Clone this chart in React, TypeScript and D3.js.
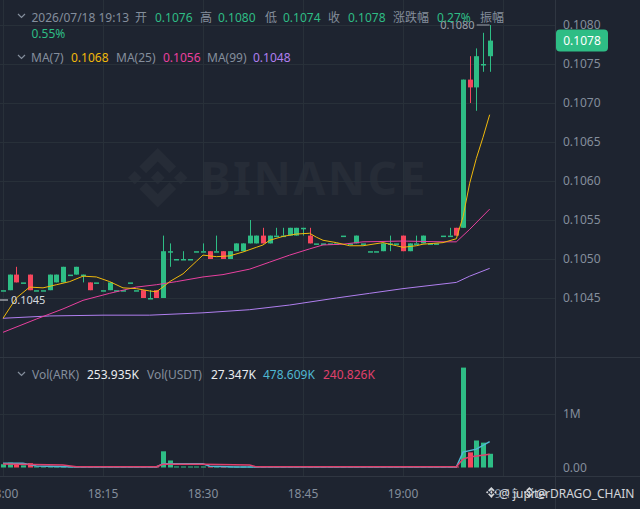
import React from "react";
import * as d3 from "d3";

// 1-minute candles, 18:00 .. 19:13
const opens = [
  0.1046, 0.1046, 0.1048, 0.1047, 0.1048, 0.1046, 0.1046, 0.1046, 0.1047, 0.1047,
  0.1048, 0.1048, 0.1048, 0.1047, 0.1047, 0.1046, 0.1046, 0.1046, 0.1046, 0.1047,
  0.1046, 0.1046, 0.1045, 0.1046, 0.1045, 0.1051, 0.105, 0.105, 0.105, 0.1051,
  0.1051, 0.1051, 0.1051, 0.1051, 0.105, 0.1051, 0.1051, 0.1052, 0.1052, 0.1053,
  0.1052, 0.1053, 0.1053, 0.1053, 0.1053, 0.1054, 0.1053, 0.1052, 0.1052, 0.1052,
  0.1052, 0.1053, 0.1052, 0.1052, 0.1052, 0.1051, 0.1051, 0.1051, 0.1052, 0.1052,
  0.1053, 0.1051, 0.1052, 0.1052, 0.1052, 0.1052, 0.1053, 0.1053, 0.1054, 0.1054,
  0.1073, 0.1072, 0.1075, 0.1076,
];
const highs = [
  0.1046, 0.1048, 0.1049, 0.1047, 0.1048, 0.1046, 0.1046, 0.1048, 0.1048, 0.1049,
  0.1048, 0.1049, 0.1048, 0.1047, 0.1047, 0.1046, 0.1047, 0.1046, 0.1046, 0.1047,
  0.1046, 0.1046, 0.1046, 0.1046, 0.1053, 0.1052, 0.105, 0.1051, 0.105, 0.1051,
  0.1052, 0.1051, 0.1053, 0.1051, 0.1051, 0.1052, 0.1052, 0.1055, 0.1053, 0.1054,
  0.1053, 0.1054, 0.1054, 0.1054, 0.1054, 0.1054, 0.1054, 0.1052, 0.1052, 0.1052,
  0.1052, 0.1053, 0.1052, 0.1053, 0.1052, 0.1051, 0.1051, 0.1052, 0.1053, 0.1052,
  0.1053, 0.1052, 0.1053, 0.1053, 0.1052, 0.1052, 0.1053, 0.1054, 0.1054, 0.1073,
  0.1076, 0.1077, 0.1079, 0.108,
];
const lows = [
  0.1046, 0.1046, 0.1047, 0.1047, 0.1046, 0.1046, 0.1046, 0.1046, 0.1047, 0.1047,
  0.1048, 0.1048, 0.1047, 0.1046, 0.1047, 0.1046, 0.1046, 0.1046, 0.1046, 0.1047,
  0.1046, 0.1045, 0.1045, 0.1045, 0.1045, 0.1049, 0.105, 0.105, 0.105, 0.1051,
  0.1051, 0.105, 0.1051, 0.105, 0.105, 0.1051, 0.1051, 0.1052, 0.1052, 0.1052,
  0.1052, 0.1053, 0.1053, 0.1053, 0.1053, 0.1053, 0.1052, 0.1052, 0.1052, 0.1052,
  0.1052, 0.1053, 0.1052, 0.1052, 0.1052, 0.1051, 0.1051, 0.1051, 0.1051, 0.1052,
  0.1051, 0.1051, 0.1052, 0.1052, 0.1052, 0.1052, 0.1053, 0.1053, 0.1053, 0.1054,
  0.107, 0.1069, 0.1074, 0.1074,
];
const closes = [
  0.1046, 0.1048, 0.1047, 0.1047, 0.1046, 0.1046, 0.1046, 0.1048, 0.1048, 0.1049,
  0.1048, 0.1049, 0.1048, 0.1046, 0.1047, 0.1046, 0.1047, 0.1046, 0.1046, 0.1047,
  0.1046, 0.1045, 0.1045, 0.1045, 0.1051, 0.1051, 0.105, 0.105, 0.105, 0.1051,
  0.1051, 0.105, 0.1051, 0.105, 0.1051, 0.1052, 0.1052, 0.1053, 0.1053, 0.1052,
  0.1053, 0.1053, 0.1053, 0.1054, 0.1054, 0.1054, 0.1052, 0.1052, 0.1052, 0.1052,
  0.1052, 0.1053, 0.1052, 0.1053, 0.1052, 0.1051, 0.1051, 0.1052, 0.1052, 0.1052,
  0.1051, 0.1052, 0.1052, 0.1053, 0.1052, 0.1052, 0.1053, 0.1053, 0.1053, 0.1073,
  0.1072, 0.1076, 0.1075, 0.1078,
];
// volume in ARK (thousands)
const volumes = [
  60, 90, 70, 40, 80, 20, 15, 30, 20, 25,
  10, 12, 8, 20, 10, 8, 15, 8, 10, 12,
  8, 20, 15, 18, 300, 130, 20, 15, 18, 12,
  15, 10, 12, 10, 12, 8, 10, 12, 8, 10,
  12, 8, 10, 8, 10, 8, 12, 8, 10, 8,
  10, 8, 10, 8, 10, 8, 10, 8, 10, 8,
  12, 10, 8, 10, 8, 10, 8, 10, 12, 1850,
  280, 500, 460, 254,
];

// moving averages: [candle index, value]
const ma7 = [
  [0, 0.10424], [1, 0.10437], [2, 0.1045], [4, 0.10464], [6, 0.10463], [8, 0.10467],
  [10, 0.10471], [12, 0.10478], [14, 0.10477], [16, 0.10471], [18, 0.10463], [20, 0.10462],
  [22, 0.10459], [23, 0.10458], [24, 0.10464], [25, 0.10471], [27, 0.10481], [29, 0.10497],
  [30, 0.10505], [32, 0.10503], [34, 0.10504], [36, 0.10509], [38, 0.10515], [39, 0.10518],
  [40, 0.10524], [42, 0.10529], [44, 0.10532], [46, 0.10533], [47, 0.10528], [48, 0.10524],
  [50, 0.10521], [52, 0.10517], [54, 0.10517], [57, 0.10521], [59, 0.10517], [60, 0.10515],
  [62, 0.10517], [63, 0.10519], [66, 0.10521], [68, 0.10526], [69, 0.10554], [70, 0.10597],
  [71, 0.10629], [72, 0.10656], [73, 0.10685],
];
const ma25 = [
  [0, 0.10406], [5, 0.10423], [9, 0.10436], [12, 0.10447], [16, 0.10456], [20, 0.10464],
  [23, 0.10467], [26, 0.10471], [30, 0.10477], [33, 0.1048], [37, 0.10487], [40, 0.10496],
  [43, 0.10505], [46, 0.10513], [48, 0.10518], [51, 0.10519], [54, 0.10522], [60, 0.10523],
  [66, 0.10522], [68, 0.10522], [70, 0.10538], [73, 0.10564],
];
const ma99 = [
  [0, 0.10424], [7, 0.10427], [15, 0.10428], [22, 0.10428], [30, 0.10431], [37, 0.10435],
  [43, 0.10441], [50, 0.1045], [55, 0.10456], [60, 0.10462], [68, 0.1047], [70, 0.10478],
  [73, 0.10488],
];
const volMa5 = [
  [0, 80], [3, 80], [5, 30], [11, 10], [23, 10], [24, 70], [30, 70], [31, 25], [35, 10],
  [68, 10], [69, 285], [71, 340], [73, 480],
];
const volMa10 = [
  [0, 65], [9, 45], [11, 15], [23, 15], [24, 60], [30, 60], [37, 45], [38, 12], [68, 12],
  [69, 155], [70, 195], [73, 245],
];

const priceTicks = [0.1045, 0.105, 0.1055, 0.106, 0.1065, 0.107, 0.1075, 0.108];
const volTicks = [0, 1000];
const volTickLabels = ["0.00", "1M"];

const W = 640;
const H = 509;
const AXIS_X = 555.5;
const PANE_SPLIT = 357.5;
const VOL_BOTTOM = 476.5;

const BG = "#1e2430";
const GRID = "#283039";
const SEP = "#2f3641";
const TXT = "#848e9c";
const UP = "#2ebd85";
const DOWN = "#f6465d";
const FONT = "'Noto Sans', 'Noto Sans CJK SC', sans-serif";

const LOGO =
  "M38.171 53.203L62.759 28.616l24.6 24.6 14.307-14.307L62.759 0 23.864 38.896zM0 62.759l14.307-14.307 14.307 14.307-14.307 14.307zM38.171 72.315l24.588 24.587 24.6-24.6 14.314 14.3-38.914 38.914-38.895-38.895zM96.904 62.759l14.307-14.307 14.307 14.307-14.307 14.307zM77.271 62.752L62.759 48.24 48.25 62.749l14.509 14.509 14.512-14.5z";

const t0 = new Date(2026, 6, 18, 18, 0);
const t1 = d3.timeMinute.offset(t0, 75);

const Chevron = ({ x, y }: { x: number; y: number }) => (
  <polyline
    points={`${x},${y} ${x + 3.5},${y + 3.5} ${x + 7},${y}`}
    fill="none"
    stroke={TXT}
    strokeWidth={1.2}
  />
);

export default function App() {
  const x = d3.scaleTime().domain([t0, t1]).range([3, 503]);
  const xi = (i: number) => x(d3.timeMinute.offset(t0, i));
  const y = d3.scaleLinear().domain([0.1045, 0.108]).range([298, 25]);
  const yv = d3.scaleLinear().domain([0, 1000]).range([467.5, 413.5]);
  const timeTicks = x.ticks(d3.timeMinute.every(15)!);
  const fmt = d3.timeFormat("%H:%M");

  const priceLine = d3
    .line<number[]>()
    .x((d) => xi(d[0]))
    .y((d) => y(d[1]));
  const volLine = d3
    .line<number[]>()
    .x((d) => xi(d[0]))
    .y((d) => yv(d[1]));

  const bodyW = 5;
  const last = closes[closes.length - 1];
  const maxHigh = d3.max(highs)!;
  const minLow = d3.min(lows)!;
  const maxIdx = highs.indexOf(maxHigh);

  return (
    <div style={{ position: "fixed", left: 0, top: 0 }}>
      <svg width={W} height={H} style={{ display: "block", fontFamily: FONT }}>
        <rect width={W} height={H} fill={BG} />

        {/* watermark */}
        <g fill="#262c37">
          <path d={LOGO} transform="translate(128,148) scale(0.474)" />
          <text x={200} y={195} fontSize={46} fontWeight={700} letterSpacing={2.5}>
            BINANCE
          </text>
        </g>

        {/* grid */}
        <g stroke={GRID} strokeWidth={1}>
          {priceTicks.map((p) => (
            <line key={p} x1={0} x2={AXIS_X} y1={Math.round(y(p)) + 0.5} y2={Math.round(y(p)) + 0.5} />
          ))}
          <line x1={0} x2={AXIS_X} y1={Math.round(yv(1000)) + 0.5} y2={Math.round(yv(1000)) + 0.5} />
          {timeTicks.map((t) => (
            <line key={+t} x1={Math.round(x(t)) + 0.5} x2={Math.round(x(t)) + 0.5} y1={0} y2={VOL_BOTTOM} />
          ))}
        </g>
        <g stroke={SEP} strokeWidth={1}>
          <line x1={0} x2={W} y1={PANE_SPLIT} y2={PANE_SPLIT} />
          <line x1={0} x2={W} y1={VOL_BOTTOM} y2={VOL_BOTTOM} />
          <line x1={AXIS_X} x2={AXIS_X} y1={0} y2={H} />
        </g>

        {/* candles */}
        {opens.map((o, i) => {
          const c = closes[i];
          const col = c < o ? DOWN : UP;
          const cx = Math.round(xi(i)) + 0.5;
          const top = y(Math.max(o, c));
          const h = Math.max(1.5, Math.abs(y(o) - y(c)));
          return (
            <g key={i}>
              <line x1={cx} x2={cx} y1={y(highs[i])} y2={y(lows[i])} stroke={col} strokeWidth={1} />
              <rect x={cx - bodyW / 2} y={top} width={bodyW} height={h} fill={col} />
            </g>
          );
        })}

        {/* moving averages */}
        <path d={priceLine(ma99)!} fill="none" stroke="#b07fef" strokeWidth={1} />
        <path d={priceLine(ma25)!} fill="none" stroke="#e9409f" strokeWidth={1} />
        <path d={priceLine(ma7)!} fill="none" stroke="#f0b90b" strokeWidth={1} />

        {/* high / low markers */}
        <g fontSize={11}>
          <line x1={xi(maxIdx) - 13} x2={xi(maxIdx)} y1={y(maxHigh)} y2={y(maxHigh)} stroke="#9aa1ab" />
          <text x={xi(maxIdx) - 15} y={y(maxHigh)} dy="0.35em" textAnchor="end" fill="#9aa1ab">
            {maxHigh.toFixed(4)}
          </text>
          <line x1={0} x2={8} y1={y(minLow) + 2} y2={y(minLow) + 2} stroke="#d5d9df" />
          <text x={11} y={y(minLow) + 2} dy="0.35em" fill="#d5d9df">
            {minLow.toFixed(4)}
          </text>
        </g>

        {/* volume */}
        {volumes.map((v, i) => {
          const col = closes[i] < opens[i] ? DOWN : UP;
          const cx = Math.round(xi(i)) + 0.5;
          const h = Math.max(1, yv(0) - yv(v));
          return <rect key={i} x={cx - bodyW / 2} y={yv(0) - h} width={bodyW} height={h} fill={col} />;
        })}
        <path d={volLine(volMa5)!} fill="none" stroke="#4fb8d3" strokeWidth={1.5} />
        <path d={volLine(volMa10)!} fill="none" stroke="#e0406c" strokeWidth={1.5} />

        {/* right axis */}
        <g fontSize={12} fill={TXT}>
          {priceTicks.map((p) => (
            <text key={p} x={563} y={y(p)} dy="0.35em">
              {p.toFixed(4)}
            </text>
          ))}
          {volTicks.map((v, i) => (
            <text key={v} x={563} y={yv(v)} dy="0.35em">
              {volTickLabels[i]}
            </text>
          ))}
        </g>
        <rect x={556} y={y(last) - 11} width={52} height={22} rx={4} fill={UP} />
        <text x={582} y={y(last)} dy="0.35em" textAnchor="middle" fontSize={12} fill="#fff">
          {last.toFixed(4)}
        </text>

        {/* time axis */}
        <g fontSize={12} fill={TXT}>
          {timeTicks.map((t) => (
            <text key={+t} x={x(t)} y={494} dy="0.35em" textAnchor="middle">
              {fmt(t)}
            </text>
          ))}
        </g>

        {/* header legend */}
        <g fontSize={12}>
          <Chevron x={18} y={14} />
          <text y={21.5} fill={TXT}>
            <tspan x={31.5}>2026/07/18 19:13</tspan>
            <tspan x={135}>开</tspan>
            <tspan x={155} fill={UP}>0.1076</tspan>
            <tspan x={200}>高</tspan>
            <tspan x={218} fill={UP}>0.1080</tspan>
            <tspan x={265}>低</tspan>
            <tspan x={283} fill={UP}>0.1074</tspan>
            <tspan x={328}>收</tspan>
            <tspan x={348} fill={UP}>0.1078</tspan>
            <tspan x={393}>涨跌幅</tspan>
            <tspan x={437} fill={UP}>0.27%</tspan>
            <tspan x={480}>振幅</tspan>
          </text>
          <text x={31.5} y={37.5} fill={UP}>0.55%</text>

          <Chevron x={18} y={55} />
          <text y={62} fill={TXT}>
            <tspan x={31}>MA(7)</tspan>
            <tspan x={71} fill="#f0b90b">0.1068</tspan>
            <tspan x={116}>MA(25)</tspan>
            <tspan x={163} fill="#e9409f">0.1056</tspan>
            <tspan x={207}>MA(99)</tspan>
            <tspan x={253} fill="#b07fef">0.1048</tspan>
          </text>

          <Chevron x={18} y={372} />
          <text y={379} fill={TXT}>
            <tspan x={32}>Vol(ARK)</tspan>
            <tspan x={87} fill="#eaecef">253.935K</tspan>
            <tspan x={147}>Vol(USDT)</tspan>
            <tspan x={211} fill="#eaecef">27.347K</tspan>
            <tspan x={263} fill="#4fb8d3">478.609K</tspan>
            <tspan x={323} fill="#e0406c">240.826K</tspan>
          </text>
        </g>

        {/* user watermark */}
        <g fill="#e6e8eb" fontSize={12} opacity={0.9}>
          <path d={LOGO} transform="translate(486,487) scale(0.085)" />
          <text x={499} y={498}>@ jupiter</text>
          <path d={LOGO} transform="translate(524,487) scale(0.085)" />
          <text x={536} y={498}>@ DRAGO_CHAIN</text>
        </g>
      </svg>
    </div>
  );
}
